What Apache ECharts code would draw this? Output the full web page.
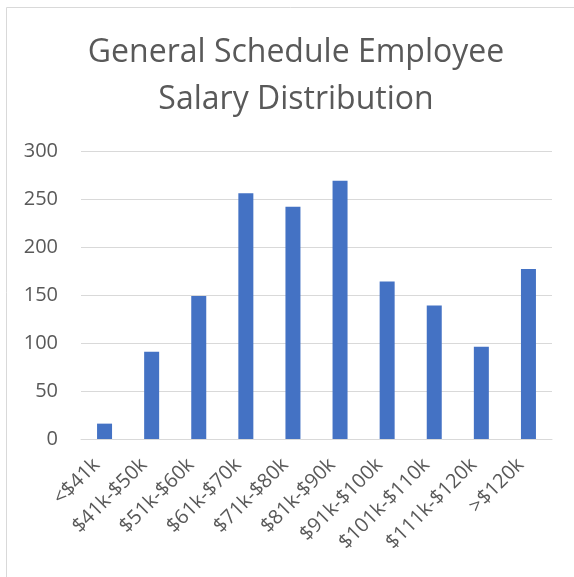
<!DOCTYPE html>
<html>
<head>
<meta charset="utf-8">
<script src="https://cdn.jsdelivr.net/npm/echarts@6/dist/echarts.min.js"></script>
<style>
  html, body { margin: 0; padding: 0; background: #fff; }
  #chart { width: 574px; height: 577px; }
</style>
</head>
<body>
<div id="chart"></div>
<script>
// salary bands and employee counts
const categories = ['<$41k', '$41k-$50k', '$51k-$60k', '$61k-$70k', '$71k-$80k',
  '$81k-$90k', '$91k-$100k', '$101k-$110k', '$111k-$120k', '>$120k'];
const counts = [16, 91, 149, 256, 242, 269, 164, 139, 96, 177];
const yTicks = [0, 50, 100, 150, 200, 250, 300];

const textColor = '#595959';
const font = 'Open Sans';

let myChart = echarts.init(document.getElementById('chart'));
let option = {
    animation: false,
    title: {
        text: 'General Schedule Employee\nSalary Distribution',
        left: 291,
        top: 24,
        textAlign: 'center',
        textStyle: {
            color: textColor,
            fontFamily: font,
            fontWeight: 'normal',
            fontSize: 32,
            lineHeight: 47
        }
    },
    graphic: [{
        type: 'rect',
        shape: { x: 6.5, y: 7.5, width: 700, height: 700 },
        style: { fill: 'none', stroke: '#d9d9d9', lineWidth: 1 },
        silent: true
    }],
    grid: { left: 81, right: 22, top: 151, bottom: 138 },
    xAxis: {
        type: 'category',
        data: categories,
        axisLine: { lineStyle: { color: '#d9d9d9' } },
        axisTick: { show: false },
        axisLabel: {
            rotate: 45,
            interval: 0,
            margin: 15,
            padding: [0, 11, 0, 0],
            color: textColor,
            fontFamily: font,
            fontSize: 20
        }
    },
    yAxis: {
        type: 'value',
        min: yTicks[0],
        max: yTicks[yTicks.length - 1],
        interval: 50,
        axisLine: { show: false },
        axisTick: { show: false },
        splitLine: { lineStyle: { color: '#d9d9d9', width: 1 } },
        axisLabel: {
            margin: 23,
            color: textColor,
            fontFamily: font,
            fontSize: 20
        }
    },
    series: [{
        type: 'bar',
        data: counts,
        barWidth: 15,
        itemStyle: { color: '#4472c4' }
    }]
};
myChart.setOption(option);
</script>
</body>
</html>
